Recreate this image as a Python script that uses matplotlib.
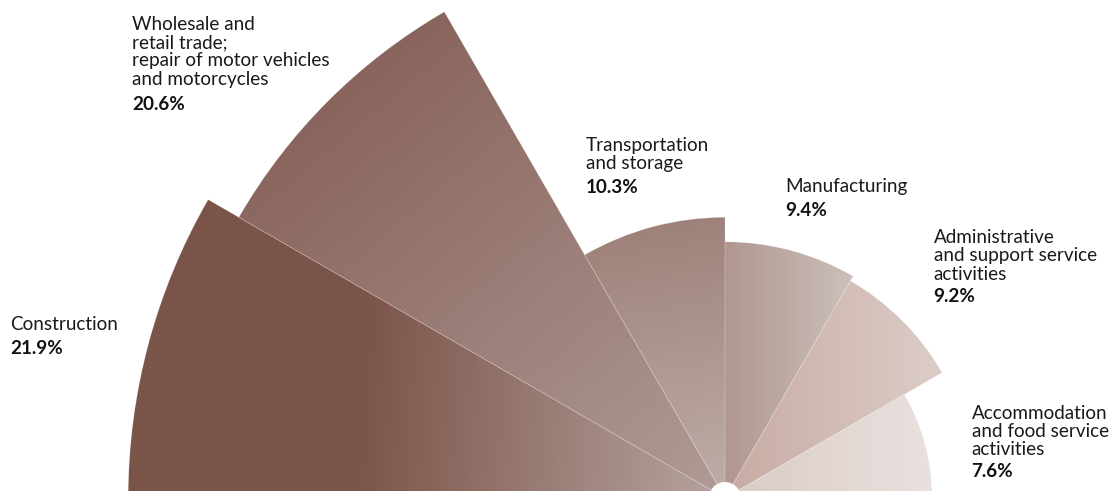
import numpy as np
import matplotlib
matplotlib.use("Agg")
import matplotlib.pyplot as plt
from matplotlib.patches import Wedge, Circle
from matplotlib.colors import LinearSegmentedColormap

# ---- data ----
categories = [
    "Construction",
    "Wholesale and\nretail trade;\nrepair of motor vehicles\nand motorcycles",
    "Transportation\nand storage",
    "Manufacturing",
    "Administrative\nand support service\nactivities",
    "Accommodation\nand food service\nactivities",
]
shares = [21.9, 20.6, 10.3, 9.4, 9.2, 7.6]
pct_labels = ["21.9%", "20.6%", "10.3%", "9.4%", "9.2%", "7.6%"]

# gradient colours (outer/dark -> light) and gradient direction (degrees)
grad_start = ["#7b5449", "#88645c", "#9e8279", "#b09790", "#c8aba3", "#dacbc6"]
grad_end = ["#b6a49f", "#b09b96", "#bfaea9", "#cdc0bb", "#dccdc8", "#e9e1de"]
grad_dir = [-4, -50, -80, 0, 0, 0]
grad_hold = [0.38, 0.0, 0.0, 0.0, 0.0, 0.0]

# label positions in pixels (x, first baseline, pct baseline)
label_pos = [
    (10, 330.5, 354.5),
    (132.5, 30, 110),
    (586, 150.7, 193.3),
    (785, 192, 216),
    (933.5, 243.3, 301.7),
    (971.5, 419, 476.7),
]

W, H = 1109, 491
cx, cy = 725, H - 498          # centre of the half rose (data coords)
px_per_pct = 27.25
hole = 16

fig = plt.figure(figsize=(W / 100, H / 100), dpi=100)
ax = fig.add_axes([0, 0, 1, 1])
ax.set_xlim(0, W)
ax.set_ylim(0, H)
ax.axis("off")

n = len(shares)
step = 180.0 / n
for i, v in enumerate(shares):
    t2 = 180 - i * step
    t1 = t2 - step
    r = v * px_per_pct
    w = Wedge((cx, cy), r, t1, t2, facecolor="none", edgecolor="none", zorder=2 + i * 0.01)
    ax.add_patch(w)
    verts = w.get_path().vertices
    x0, x1 = verts[:, 0].min(), verts[:, 0].max()
    y0, y1 = verts[:, 1].min(), verts[:, 1].max()
    nx, ny = 300, 300
    xs = np.linspace(x0, x1, nx)
    ys = np.linspace(y0, y1, ny)
    X, Y = np.meshgrid(xs, ys)
    a = np.deg2rad(grad_dir[i])
    P = X * np.cos(a) + Y * np.sin(a)
    pv = verts[:, 0] * np.cos(a) + verts[:, 1] * np.sin(a)
    T = (P - pv.min()) / (pv.max() - pv.min())
    h = grad_hold[i]
    cmap = LinearSegmentedColormap.from_list(
        f"g{i}", [(0, grad_start[i]), (max(h, 1e-3), grad_start[i]), (1, grad_end[i])])
    im = ax.imshow(T, cmap=cmap, vmin=0, vmax=1, origin="lower",
                   extent=(x0, x1, y0, y1), interpolation="bilinear",
                   zorder=2 + i * 0.01, aspect="auto")
    im.set_clip_path(w)
    ax.add_patch(Wedge((cx, cy), r, t1, t2, facecolor="none",
                       edgecolor=(1, 1, 1, 0.22), lw=0.45, zorder=3))

ax.add_patch(Circle((cx, cy), hole, facecolor="white", edgecolor="none", zorder=5))

font = ["Lato", "DejaVu Sans"]
fs = 13.6
line_h = 18.2
for i, cat in enumerate(categories):
    x, b0, bp = label_pos[i]
    for j, line in enumerate(cat.split("\n")):
        ax.text(x, H - (b0 + j * line_h), line, fontsize=fs, family=font,
                color="#1a1a1a", ha="left", va="baseline", zorder=6)
    ax.text(x, H - bp, pct_labels[i], fontsize=fs, family=font, weight="bold",
            color="#111111", ha="left", va="baseline", zorder=6)

fig.savefig("out.png", dpi=100)
